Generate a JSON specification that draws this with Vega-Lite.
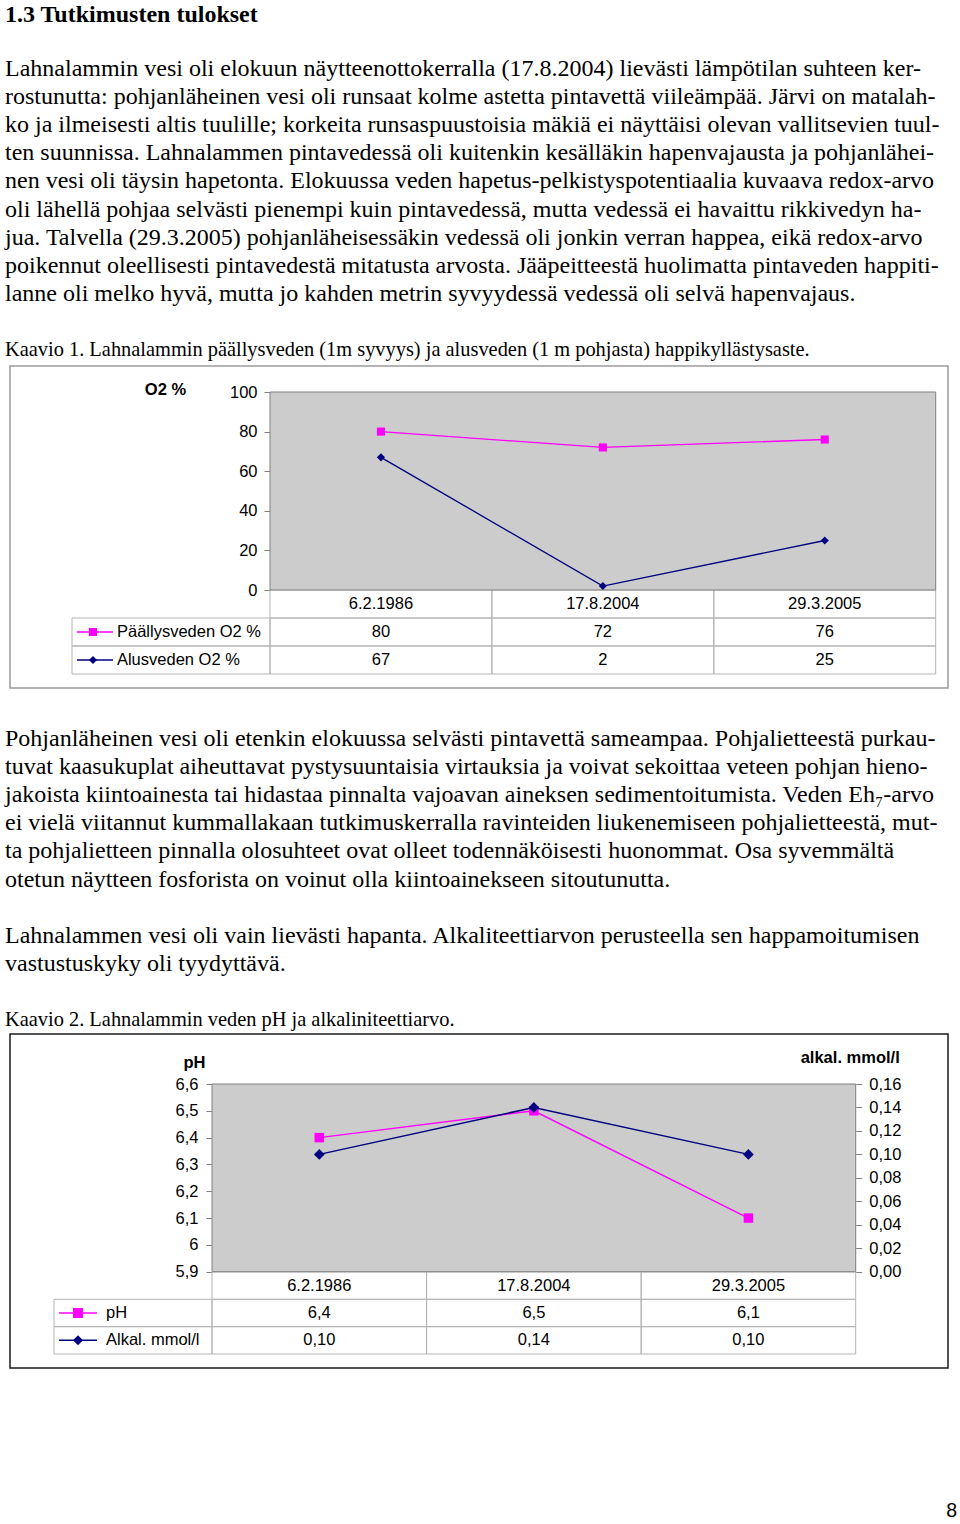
{
  "$schema": "https://vega.github.io/schema/vega-lite/v6.json",
  "padding": 0,
  "background": "white",
  "spacing": 0,
  "bounds": "flush",
  "center": true,
  "resolve": {"scale": {"color": "independent", "shape": "independent"}},
  "datasets": {
    "text1": [
      {"line": -2, "kind": "heading", "text": "1.3 Tutkimusten tulokset"},
      {"line": 0, "kind": "body", "text": "Lahnalammin vesi oli elokuun näytteenottokerralla (17.8.2004) lievästi lämpötilan suhteen ker-"},
      {"line": 1, "kind": "body", "text": "rostunutta: pohjanläheinen vesi oli runsaat kolme astetta pintavettä viileämpää. Järvi on matalah-"},
      {"line": 2, "kind": "body", "text": "ko ja ilmeisesti altis tuulille; korkeita runsaspuustoisia mäkiä ei näyttäisi olevan vallitsevien tuul-"},
      {"line": 3, "kind": "body", "text": "ten suunnissa. Lahnalammen pintavedessä oli kuitenkin kesälläkin hapenvajausta ja pohjanlähei-"},
      {"line": 4, "kind": "body", "text": "nen vesi oli täysin hapetonta. Elokuussa veden hapetus-pelkistyspotentiaalia kuvaava redox-arvo"},
      {"line": 5, "kind": "body", "text": "oli lähellä pohjaa selvästi pienempi kuin pintavedessä, mutta vedessä ei havaittu rikkivedyn ha-"},
      {"line": 6, "kind": "body", "text": "jua. Talvella (29.3.2005) pohjanläheisessäkin vedessä oli jonkin verran happea, eikä redox-arvo"},
      {"line": 7, "kind": "body", "text": "poikennut oleellisesti pintavedestä mitatusta arvosta. Jääpeitteestä huolimatta pintaveden happiti-"},
      {"line": 8, "kind": "body", "text": "lanne oli melko hyvä, mutta jo kahden metrin syvyydessä vedessä oli selvä hapenvajaus."},
      {"line": 10, "kind": "caption", "text": "Kaavio 1. Lahnalammin päällysveden (1m syvyys) ja alusveden (1 m pohjasta) happikyllästysaste."}
    ],
    "text2": [
      {"line": 0, "kind": "body", "text": "Pohjanläheinen vesi oli etenkin elokuussa selvästi pintavettä sameampaa. Pohjalietteestä purkau-"},
      {"line": 1, "kind": "body", "text": "tuvat kaasukuplat aiheuttavat pystysuuntaisia virtauksia ja voivat sekoittaa veteen pohjan hieno-"},
      {"line": 2, "kind": "body", "text": "jakoista kiintoainesta tai hidastaa pinnalta vajoavan aineksen sedimentoitumista. Veden Eh₇-arvo"},
      {"line": 3, "kind": "body", "text": "ei vielä viitannut kummallakaan tutkimuskerralla ravinteiden liukenemiseen pohjalietteestä, mut-"},
      {"line": 4, "kind": "body", "text": "ta pohjalietteen pinnalla olosuhteet ovat olleet todennäköisesti huonommat. Osa syvemmältä"},
      {"line": 5, "kind": "body", "text": "otetun näytteen fosforista on voinut olla kiintoainekseen sitoutunutta."},
      {"line": 7, "kind": "body", "text": "Lahnalammen vesi oli vain lievästi hapanta. Alkaliteettiarvon perusteella sen happamoitumisen"},
      {"line": 8, "kind": "body", "text": "vastustuskyky oli tyydyttävä."},
      {"line": 10, "kind": "caption", "text": "Kaavio 2. Lahnalammin veden pH ja alkaliniteettiarvo."}
    ],
    "text3": [
      {"line": 0, "kind": "page", "text": "8"}
    ],
    "o2dates": [
      {"date": "6.2.1986"}, {"date": "17.8.2004"}, {"date": "29.3.2005"}
    ],
    "o2": [
      {"date": "6.2.1986", "series": "Päällysveden O2 %", "value": 80},
      {"date": "17.8.2004", "series": "Päällysveden O2 %", "value": 72},
      {"date": "29.3.2005", "series": "Päällysveden O2 %", "value": 76},
      {"date": "6.2.1986", "series": "Alusveden O2 %", "value": 67},
      {"date": "17.8.2004", "series": "Alusveden O2 %", "value": 2},
      {"date": "29.3.2005", "series": "Alusveden O2 %", "value": 25}
    ],
    "o2series": [
      {"series": "Päällysveden O2 %"}, {"series": "Alusveden O2 %"}
    ],
    "ph": [
      {"date": "6.2.1986", "ph": 6.4, "alk": 0.10},
      {"date": "17.8.2004", "ph": 6.5, "alk": 0.14},
      {"date": "29.3.2005", "ph": 6.1, "alk": 0.10}
    ],
    "phseries": [
      {"series": "pH"}, {"series": "Alkal. mmol/l"}
    ]
  },
  "vconcat": [
    {
      "width": 958, "height": 366,
      "data": {"name": "text1"},
      "encoding": {
        "x": {"datum": 0, "type": "quantitative", "scale": {"domain": [0, 1], "range": [5, 957], "nice": false, "zero": false}, "axis": null},
        "y": {"field": "line", "type": "quantitative", "scale": {"domain": [0, 10], "range": [69, 350], "nice": false, "zero": false}, "axis": null},
        "text": {"field": "text", "type": "nominal"}
      },
      "layer": [
        {"transform": [{"filter": "datum.kind === 'heading'"}], "mark": {"type": "text", "align": "left", "baseline": "middle", "dy": 2, "font": "Liberation Serif", "fontSize": 24, "fontWeight": "bold", "color": "#000000"}},
        {"transform": [{"filter": "datum.kind === 'body'"}], "mark": {"type": "text", "align": "left", "baseline": "middle", "font": "Liberation Serif", "fontSize": 24, "color": "#000000"}},
        {"transform": [{"filter": "datum.kind === 'caption'"}], "mark": {"type": "text", "align": "left", "baseline": "middle", "font": "Liberation Serif", "fontSize": 20.4, "color": "#000000"}}
      ]
    },
    {
      "width": 938, "height": 322,
      "view": {"stroke": "#9c9c9c", "strokeWidth": 1.5},
      "resolve": {"scale": {"x": "independent", "y": "independent"}, "axis": {"x": "independent", "y": "independent"}},
      "layer": [
        {
          "layer": [
            {
              "data": {"name": "o2dates"},
              "mark": {"type": "rect", "filled": false, "color": "#b4b4b4", "strokeWidth": 1},
              "encoding": {
                "x": {"field": "date", "type": "nominal", "sort": ["6.2.1986", "17.8.2004", "29.3.2005"], "scale": {"domain": ["6.2.1986", "17.8.2004", "29.3.2005"], "range": [260, 925.7], "paddingInner": 0, "paddingOuter": 0}, "axis": {"orient": "bottom", "offset": -98, "domain": false, "ticks": false, "tickSize": 0, "grid": false, "labelAngle": 0, "labelPadding": 13.5, "labelBaseline": "middle", "labelFont": "Liberation Sans", "labelFontSize": 16.5, "labelColor": "#000000", "labelOverlap": false, "title": null}},
                "y": {"datum": "hdr", "type": "nominal", "scale": {"domain": ["hdr", "Päällysveden O2 %", "Alusveden O2 %"], "range": [224, 308], "paddingInner": 0, "paddingOuter": 0}, "axis": null}
              }
            },
            {
              "data": {"name": "o2"},
              "mark": {"type": "rect", "filled": false, "color": "#b4b4b4", "strokeWidth": 1},
              "encoding": {
                "x": {"field": "date", "type": "nominal", "sort": ["6.2.1986", "17.8.2004", "29.3.2005"], "scale": {"domain": ["6.2.1986", "17.8.2004", "29.3.2005"], "range": [260, 925.7], "paddingInner": 0, "paddingOuter": 0}, "axis": {"orient": "bottom", "offset": -98, "domain": false, "ticks": false, "tickSize": 0, "grid": false, "labelAngle": 0, "labelPadding": 13.5, "labelBaseline": "middle", "labelFont": "Liberation Sans", "labelFontSize": 16.5, "labelColor": "#000000", "labelOverlap": false, "title": null}},
                "y": {"field": "series", "type": "nominal", "scale": {"domain": ["hdr", "Päällysveden O2 %", "Alusveden O2 %"], "range": [224, 308], "paddingInner": 0, "paddingOuter": 0}, "axis": null}
              }
            },
            {
              "data": {"name": "o2"},
              "mark": {"type": "text", "font": "Liberation Sans", "fontSize": 16.5, "color": "#000000", "baseline": "middle"},
              "encoding": {
                "x": {"field": "date", "type": "nominal", "sort": ["6.2.1986", "17.8.2004", "29.3.2005"], "scale": {"domain": ["6.2.1986", "17.8.2004", "29.3.2005"], "range": [260, 925.7], "paddingInner": 0, "paddingOuter": 0}, "axis": {"orient": "bottom", "offset": -98, "domain": false, "ticks": false, "tickSize": 0, "grid": false, "labelAngle": 0, "labelPadding": 13.5, "labelBaseline": "middle", "labelFont": "Liberation Sans", "labelFontSize": 16.5, "labelColor": "#000000", "labelOverlap": false, "title": null}},
                "y": {"field": "series", "type": "nominal", "scale": {"domain": ["hdr", "Päällysveden O2 %", "Alusveden O2 %"], "range": [224, 308], "paddingInner": 0, "paddingOuter": 0}, "axis": null},
                "text": {"field": "value", "type": "quantitative"}
              }
            }
          ]
        },
        {
          "data": {"values": [{"area": "plot"}]},
          "mark": {"type": "rect", "fill": "#cccccc", "stroke": "#808080", "strokeWidth": 1},
          "encoding": {
            "x": {"datum": 0, "type": "quantitative", "scale": {"domain": [0, 1], "range": [260, 925.7], "nice": false, "zero": false}, "axis": null},
            "x2": {"datum": 1},
            "y": {"datum": 0, "type": "quantitative", "scale": {"domain": [0, 100], "range": [224, 26], "nice": false, "zero": false}, "axis": null},
            "y2": {"datum": 100}
          }
        },
        {
          "data": {"name": "o2"},
          "encoding": {
            "x": {"field": "date", "type": "nominal", "sort": ["6.2.1986", "17.8.2004", "29.3.2005"], "scale": {"domain": ["6.2.1986", "17.8.2004", "29.3.2005"], "range": [260, 925.7], "paddingInner": 0, "paddingOuter": 0}, "axis": null},
            "y": {"field": "value", "type": "quantitative", "scale": {"domain": [0, 100], "range": [224, 26], "nice": false, "zero": false}, "axis": {"orient": "left", "offset": -260, "domain": false, "ticks": true, "tickSize": 6, "tickColor": "#808080", "tickWidth": 1, "grid": false, "values": [0, 20, 40, 60, 80, 100], "labelPadding": 7, "labelFont": "Liberation Sans", "labelFontSize": 16.5, "labelColor": "#000000", "title": "O2 %", "titleAngle": 0, "titleX": -105, "titleY": 23, "titleAlign": "center", "titleBaseline": "middle", "titleFont": "Liberation Sans", "titleFontSize": 16.5, "titleFontWeight": "bold", "titleColor": "#000000"}},
            "color": {"field": "series", "type": "nominal", "scale": {"domain": ["Päällysveden O2 %", "Alusveden O2 %"], "range": ["#ff00ff", "#000080"]}, "legend": null}
          },
          "layer": [
            {"mark": {"type": "line", "strokeWidth": 1.3}},
            {"mark": {"type": "point", "filled": true, "size": 66, "opacity": 1}, "encoding": {"shape": {"field": "series", "type": "nominal", "scale": {"domain": ["Päällysveden O2 %", "Alusveden O2 %"], "range": ["square", "diamond"]}, "legend": null}}}
          ]
        },
        {
          "data": {"name": "o2series"},
          "encoding": {
            "y": {"field": "series", "type": "nominal", "scale": {"domain": ["hdr", "Päällysveden O2 %", "Alusveden O2 %"], "range": [224, 308], "paddingInner": 0, "paddingOuter": 0}, "axis": null}
          },
          "layer": [
            {
              "mark": {"type": "rect", "filled": false, "color": "#b4b4b4", "strokeWidth": 1},
              "encoding": {
                "x": {"datum": 0, "type": "quantitative", "scale": {"domain": [0, 1], "range": [62, 260], "nice": false, "zero": false}, "axis": null},
                "x2": {"datum": 1}
              }
            },
            {
              "mark": {"type": "rule", "strokeWidth": 1.3},
              "encoding": {
                "x": {"datum": 0.025, "type": "quantitative", "scale": {"domain": [0, 1], "range": [62, 260], "nice": false, "zero": false}, "axis": null},
                "x2": {"datum": 0.207},
                "color": {"field": "series", "type": "nominal", "scale": {"domain": ["Päällysveden O2 %", "Alusveden O2 %"], "range": ["#ff00ff", "#000080"]}, "legend": null}
              }
            },
            {
              "mark": {"type": "point", "filled": true, "size": 66, "opacity": 1},
              "encoding": {
                "x": {"datum": 0.106, "type": "quantitative", "scale": {"domain": [0, 1], "range": [62, 260], "nice": false, "zero": false}, "axis": null},
                "color": {"field": "series", "type": "nominal", "scale": {"domain": ["Päällysveden O2 %", "Alusveden O2 %"], "range": ["#ff00ff", "#000080"]}, "legend": null},
                "shape": {"field": "series", "type": "nominal", "scale": {"domain": ["Päällysveden O2 %", "Alusveden O2 %"], "range": ["square", "diamond"]}, "legend": null}
              }
            },
            {
              "mark": {"type": "text", "align": "left", "baseline": "middle", "font": "Liberation Sans", "fontSize": 16.5, "color": "#000000"},
              "encoding": {
                "x": {"datum": 0.227, "type": "quantitative", "scale": {"domain": [0, 1], "range": [62, 260], "nice": false, "zero": false}, "axis": null},
                "text": {"field": "series", "type": "nominal"}
              }
            }
          ]
        }
      ]
    },
    {
      "width": 958, "height": 346,
      "data": {"name": "text2"},
      "encoding": {
        "x": {"datum": 0, "type": "quantitative", "scale": {"domain": [0, 1], "range": [5, 957], "nice": false, "zero": false}, "axis": null},
        "y": {"field": "line", "type": "quantitative", "scale": {"domain": [0, 10], "range": [51, 332], "nice": false, "zero": false}, "axis": null},
        "text": {"field": "text", "type": "nominal"}
      },
      "layer": [
        {"transform": [{"filter": "datum.kind === 'body'"}], "mark": {"type": "text", "align": "left", "baseline": "middle", "font": "Liberation Serif", "fontSize": 24, "color": "#000000"}},
        {"transform": [{"filter": "datum.kind === 'caption'"}], "mark": {"type": "text", "align": "left", "baseline": "middle", "font": "Liberation Serif", "fontSize": 20.4, "color": "#000000"}}
      ]
    },
    {
      "width": 938, "height": 334,
      "view": {"stroke": "#1a1a1a", "strokeWidth": 1.5},
      "resolve": {"scale": {"x": "independent", "y": "independent"}, "axis": {"x": "independent", "y": "independent"}},
      "layer": [
        {
          "data": {"name": "ph"},
          "encoding": {
            "x": {"field": "date", "type": "nominal", "sort": ["6.2.1986", "17.8.2004", "29.3.2005"], "scale": {"domain": ["6.2.1986", "17.8.2004", "29.3.2005"], "range": [202, 845.7], "paddingInner": 0, "paddingOuter": 0}, "axis": {"orient": "bottom", "offset": -96.3, "domain": false, "ticks": false, "tickSize": 0, "grid": false, "labelAngle": 0, "labelPadding": 14, "labelBaseline": "middle", "labelFont": "Liberation Sans", "labelFontSize": 16.5, "labelColor": "#000000", "labelOverlap": false, "title": null}}
          },
          "layer": [
            {
              "mark": {"type": "rect", "filled": false, "color": "#b4b4b4", "strokeWidth": 1},
              "encoding": {"y": {"datum": "hdr", "type": "nominal", "scale": {"domain": ["hdr", "pH", "Alkal. mmol/l"], "range": [238, 320], "paddingInner": 0, "paddingOuter": 0}, "axis": null}}
            },
            {
              "mark": {"type": "rect", "filled": false, "color": "#b4b4b4", "strokeWidth": 1},
              "encoding": {"y": {"datum": "pH", "type": "nominal", "scale": {"domain": ["hdr", "pH", "Alkal. mmol/l"], "range": [238, 320], "paddingInner": 0, "paddingOuter": 0}, "axis": null}}
            },
            {
              "mark": {"type": "rect", "filled": false, "color": "#b4b4b4", "strokeWidth": 1},
              "encoding": {"y": {"datum": "Alkal. mmol/l", "type": "nominal", "scale": {"domain": ["hdr", "pH", "Alkal. mmol/l"], "range": [238, 320], "paddingInner": 0, "paddingOuter": 0}, "axis": null}}
            },
            {
              "mark": {"type": "text", "font": "Liberation Sans", "fontSize": 16.5, "color": "#000000", "baseline": "middle"},
              "encoding": {
                "y": {"datum": "pH", "type": "nominal", "scale": {"domain": ["hdr", "pH", "Alkal. mmol/l"], "range": [238, 320], "paddingInner": 0, "paddingOuter": 0}, "axis": null},
                "text": {"field": "ph", "type": "quantitative", "format": ".1f"}
              }
            },
            {
              "mark": {"type": "text", "font": "Liberation Sans", "fontSize": 16.5, "color": "#000000", "baseline": "middle"},
              "encoding": {
                "y": {"datum": "Alkal. mmol/l", "type": "nominal", "scale": {"domain": ["hdr", "pH", "Alkal. mmol/l"], "range": [238, 320], "paddingInner": 0, "paddingOuter": 0}, "axis": null},
                "text": {"field": "alk", "type": "quantitative", "format": ".2f"}
              }
            }
          ]
        },
        {
          "data": {"values": [{"area": "plot"}]},
          "mark": {"type": "rect", "fill": "#cccccc", "stroke": "#808080", "strokeWidth": 1},
          "encoding": {
            "x": {"datum": 0, "type": "quantitative", "scale": {"domain": [0, 1], "range": [202, 845.7], "nice": false, "zero": false}, "axis": null},
            "x2": {"datum": 1},
            "y": {"datum": 0, "type": "quantitative", "scale": {"domain": [0, 1], "range": [237.7, 50], "nice": false, "zero": false}, "axis": null},
            "y2": {"datum": 1}
          }
        },
        {
          "data": {"name": "ph"},
          "encoding": {
            "x": {"field": "date", "type": "nominal", "sort": ["6.2.1986", "17.8.2004", "29.3.2005"], "scale": {"domain": ["6.2.1986", "17.8.2004", "29.3.2005"], "range": [202, 845.7], "paddingInner": 0, "paddingOuter": 0}, "axis": null},
            "y": {"field": "ph", "type": "quantitative", "scale": {"domain": [5.9, 6.6], "range": [237.7, 50], "nice": false, "zero": false}, "axis": {"orient": "left", "offset": -202, "domain": false, "ticks": true, "tickSize": 6, "tickColor": "#808080", "tickWidth": 1, "grid": false, "values": [5.9, 6.0, 6.1, 6.2, 6.3, 6.4, 6.5, 6.6], "format": ".1~f", "labelPadding": 8, "labelFont": "Liberation Sans", "labelFontSize": 16.5, "labelColor": "#000000", "title": "pH", "titleAngle": 0, "titleX": -18, "titleY": 28, "titleAlign": "center", "titleBaseline": "middle", "titleFont": "Liberation Sans", "titleFontSize": 16.5, "titleFontWeight": "bold", "titleColor": "#000000"}},
            "color": {"datum": "pH", "type": "nominal", "scale": {"domain": ["pH", "Alkal. mmol/l"], "range": ["#ff00ff", "#000080"]}, "legend": null}
          },
          "layer": [
            {"mark": {"type": "line", "strokeWidth": 1.5}},
            {"mark": {"type": "point", "filled": true, "size": 90, "opacity": 1}, "encoding": {"shape": {"datum": "pH", "type": "nominal", "scale": {"domain": ["pH", "Alkal. mmol/l"], "range": ["square", "diamond"]}, "legend": null}}}
          ]
        },
        {
          "data": {"name": "ph"},
          "encoding": {
            "x": {"field": "date", "type": "nominal", "sort": ["6.2.1986", "17.8.2004", "29.3.2005"], "scale": {"domain": ["6.2.1986", "17.8.2004", "29.3.2005"], "range": [202, 845.7], "paddingInner": 0, "paddingOuter": 0}, "axis": null},
            "y": {"field": "alk", "type": "quantitative", "scale": {"domain": [0, 0.16], "range": [237.7, 50], "nice": false, "zero": false}, "axis": {"orient": "right", "offset": -92.3, "domain": false, "ticks": true, "tickSize": 6, "tickColor": "#808080", "tickWidth": 1, "grid": false, "values": [0, 0.02, 0.04, 0.06, 0.08, 0.1, 0.12, 0.14, 0.16], "format": ".2f", "labelPadding": 7, "labelFont": "Liberation Sans", "labelFontSize": 16.5, "labelColor": "#000000", "title": "alkal. mmol/l", "titleAngle": 0, "titleX": -6, "titleY": 23, "titleAlign": "center", "titleBaseline": "middle", "titleFont": "Liberation Sans", "titleFontSize": 16.5, "titleFontWeight": "bold", "titleColor": "#000000"}},
            "color": {"datum": "Alkal. mmol/l", "type": "nominal", "scale": {"domain": ["pH", "Alkal. mmol/l"], "range": ["#ff00ff", "#000080"]}, "legend": null}
          },
          "layer": [
            {"mark": {"type": "line", "strokeWidth": 1.5}},
            {"mark": {"type": "point", "filled": true, "size": 115, "opacity": 1}, "encoding": {"shape": {"datum": "Alkal. mmol/l", "type": "nominal", "scale": {"domain": ["pH", "Alkal. mmol/l"], "range": ["square", "diamond"]}, "legend": null}}}
          ]
        },
        {
          "data": {"name": "phseries"},
          "encoding": {
            "y": {"field": "series", "type": "nominal", "scale": {"domain": ["hdr", "pH", "Alkal. mmol/l"], "range": [238, 320], "paddingInner": 0, "paddingOuter": 0}, "axis": null}
          },
          "layer": [
            {
              "mark": {"type": "rect", "filled": false, "color": "#b4b4b4", "strokeWidth": 1},
              "encoding": {
                "x": {"datum": 0, "type": "quantitative", "scale": {"domain": [0, 1], "range": [44, 202], "nice": false, "zero": false}, "axis": null},
                "x2": {"datum": 1}
              }
            },
            {
              "mark": {"type": "rule", "strokeWidth": 1.5},
              "encoding": {
                "x": {"datum": 0.032, "type": "quantitative", "scale": {"domain": [0, 1], "range": [44, 202], "nice": false, "zero": false}, "axis": null},
                "x2": {"datum": 0.272},
                "color": {"field": "series", "type": "nominal", "scale": {"domain": ["pH", "Alkal. mmol/l"], "range": ["#ff00ff", "#000080"]}, "legend": null}
              }
            },
            {
              "mark": {"type": "point", "filled": true, "size": 100, "opacity": 1},
              "encoding": {
                "x": {"datum": 0.152, "type": "quantitative", "scale": {"domain": [0, 1], "range": [44, 202], "nice": false, "zero": false}, "axis": null},
                "color": {"field": "series", "type": "nominal", "scale": {"domain": ["pH", "Alkal. mmol/l"], "range": ["#ff00ff", "#000080"]}, "legend": null},
                "shape": {"field": "series", "type": "nominal", "scale": {"domain": ["pH", "Alkal. mmol/l"], "range": ["square", "diamond"]}, "legend": null}
              }
            },
            {
              "mark": {"type": "text", "align": "left", "baseline": "middle", "font": "Liberation Sans", "fontSize": 16.5, "color": "#000000"},
              "encoding": {
                "x": {"datum": 0.329, "type": "quantitative", "scale": {"domain": [0, 1], "range": [44, 202], "nice": false, "zero": false}, "axis": null},
                "text": {"field": "series", "type": "nominal"}
              }
            }
          ]
        }
      ]
    },
    {
      "width": 958, "height": 156,
      "data": {"name": "text3"},
      "mark": {"type": "text", "align": "right", "baseline": "middle", "font": "Liberation Sans", "fontSize": 19.5, "color": "#000000"},
      "encoding": {
        "x": {"datum": 1, "type": "quantitative", "scale": {"domain": [0, 1], "range": [5, 957], "nice": false, "zero": false}, "axis": null},
        "y": {"field": "line", "type": "quantitative", "scale": {"domain": [0, 1], "range": [143, 171], "nice": false, "zero": false}, "axis": null},
        "text": {"field": "text", "type": "nominal"}
      }
    }
  ],
  "config": {
    "view": {"stroke": null},
    "locale": {"number": {"decimal": ",", "thousands": " ", "grouping": [3], "currency": ["", " €"]}},
    "axis": {"labelFont": "Liberation Sans", "titleFont": "Liberation Sans"},
    "text": {"font": "Liberation Sans"}
  }
}
